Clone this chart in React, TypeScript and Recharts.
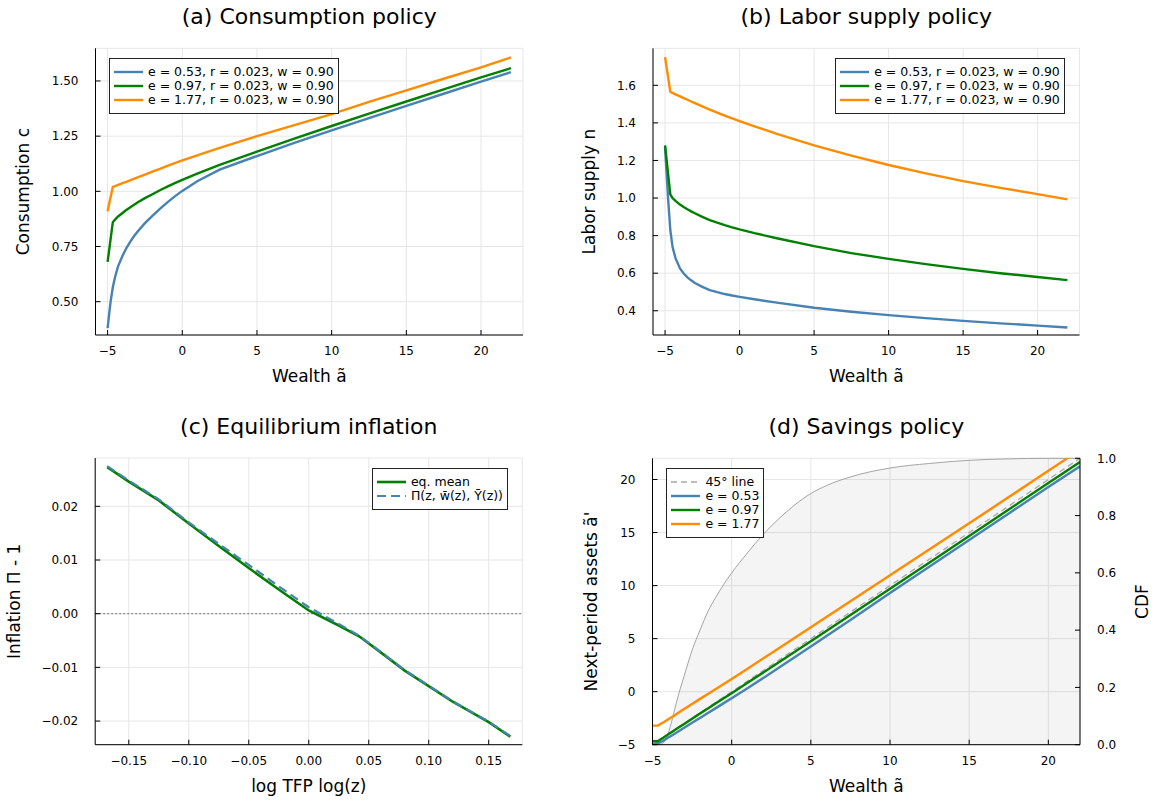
import React from 'react';
import {
  LineChart, ComposedChart, Line, Area, XAxis, YAxis, CartesianGrid,
  ReferenceLine, Legend, Label,
} from 'recharts';

const FONT = '"DejaVu Sans", sans-serif';
const BLUE = '#4682b4';
const GREEN = '#008000';
const ORANGE = '#ff8c00';
const GRID = '#e6e6e6';

// wealth grid shared by panels a, b and d
const wealth = [-5, -4.8, -4.65, -4.5, -4.3, -4, -3.75, -3.5, -3.25, -3, -2.5, -2, -1.5, -1, -0.5, 0, 1, 2.5, 5, 7.5, 10, 12.5, 15, 17.5, 20, 22];

// (a) consumption policy
const consLow = [0.38, 0.5, 0.565, 0.612, 0.66, 0.708, 0.742, 0.77, 0.795, 0.817, 0.856, 0.889, 0.92, 0.95, 0.977, 1.002, 1.046, 1.098, 1.16, 1.219, 1.276, 1.332, 1.387, 1.442, 1.497, 1.54];
const consMid = [0.68, 0.783, 0.86, 0.872, 0.886, 0.902, 0.915, 0.927, 0.938, 0.949, 0.969, 0.987, 1.005, 1.021, 1.037, 1.052, 1.08, 1.12, 1.18, 1.239, 1.296, 1.352, 1.407, 1.462, 1.516, 1.558];
const consHigh = [0.91, 0.973, 1.02, 1.024, 1.029, 1.037, 1.043, 1.05, 1.056, 1.063, 1.076, 1.089, 1.102, 1.115, 1.128, 1.14, 1.163, 1.197, 1.25, 1.3, 1.35, 1.405, 1.457, 1.51, 1.562, 1.607];

// (b) labor supply policy
const laborLow = [1.27, 1.0, 0.83, 0.74, 0.68, 0.625, 0.598, 0.578, 0.562, 0.548, 0.527, 0.51, 0.499, 0.489, 0.481, 0.474, 0.461, 0.443, 0.416, 0.395, 0.377, 0.361, 0.346, 0.333, 0.321, 0.311];
const laborMid = [1.28, 1.131, 1.02, 1.0, 0.985, 0.965, 0.952, 0.94, 0.929, 0.919, 0.9, 0.883, 0.869, 0.856, 0.844, 0.833, 0.813, 0.786, 0.744, 0.707, 0.676, 0.648, 0.623, 0.6, 0.58, 0.563];
const laborHigh = [1.75, 1.645, 1.566, 1.56, 1.552, 1.541, 1.532, 1.523, 1.514, 1.505, 1.488, 1.471, 1.455, 1.439, 1.424, 1.41, 1.382, 1.342, 1.28, 1.226, 1.176, 1.131, 1.09, 1.054, 1.021, 0.993];

// (c) equilibrium inflation
const logTfp = [-0.168, -0.15, -0.125, -0.1, -0.075, -0.05, -0.025, 0, 0.025, 0.042, 0.06, 0.08, 0.1, 0.12, 0.15, 0.168];
const inflEq = [0.0273, 0.0246, 0.0211, 0.0168, 0.0126, 0.0085, 0.0045, 0.0006, -0.0022, -0.0042, -0.0072, -0.0106, -0.0135, -0.0164, -0.0202, -0.0229];
const inflApprox = [0.0275, 0.0248, 0.0213, 0.017, 0.013, 0.0091, 0.0051, 0.0012, -0.0019, -0.0041, -0.0071, -0.0105, -0.0134, -0.0163, -0.0201, -0.0228];

// (d) savings policy + wealth CDF
const saveLow = [-4.94, -4.9, -4.86, -4.77, -4.6, -4.33, -4.1, -3.87, -3.64, -3.41, -2.94, -2.48, -2.01, -1.55, -1.08, -0.62, 0.32, 1.78, 4.25, 6.75, 9.3, 11.8, 14.3, 16.8, 19.3, 21.25];
const saveMid = [-4.68, -4.67, -4.66, -4.51, -4.32, -4.02, -3.78, -3.53, -3.29, -3.04, -2.55, -2.06, -1.58, -1.1, -0.62, -0.15, 0.83, 2.3, 4.75, 7.22, 9.7, 12.18, 14.68, 17.17, 19.67, 21.65];
const saveHigh = [-3.2, -3.2, -3.2, -3.05, -2.88, -2.6, -2.36, -2.12, -1.88, -1.64, -1.16, -0.68, -0.21, 0.26, 0.73, 1.2, 2.17, 3.63, 6.08, 8.52, 10.97, 13.42, 15.88, 18.34, 20.82, 22.8];
const diagWealth = [-5, 22];
const cdfWealth = [-5, -4.5, -4.2, -4, -3.75, -3.5, -3.25, -3, -2.5, -2, -1.5, -1, -0.5, 0, 1, 2, 3, 4, 5, 6, 7.5, 10, 12.5, 15, 17.5, 20, 22];
const cdfShare = [0, 0.002, 0.015, 0.04, 0.09, 0.145, 0.195, 0.24, 0.33, 0.4, 0.465, 0.515, 0.56, 0.6, 0.67, 0.735, 0.79, 0.838, 0.877, 0.905, 0.935, 0.966, 0.982, 0.993, 0.998, 1, 1];

// ticks
const wealthTicks = [-5, 0, 5, 10, 15, 20];
const consTicks = [0.5, 0.75, 1.0, 1.25, 1.5];
const laborTicks = [0.4, 0.6, 0.8, 1.0, 1.2, 1.4, 1.6];
const tfpTicks = [-0.15, -0.1, -0.05, 0, 0.05, 0.1, 0.15];
const inflTicks = [-0.02, -0.01, 0, 0.01, 0.02];
const assetTicks = [-5, 0, 5, 10, 15, 20];
const cdfTicks = [0, 0.2, 0.4, 0.6, 0.8, 1];

const policyLabels = ['e = 0.53, r = 0.023, w = 0.90', 'e = 0.97, r = 0.023, w = 0.90', 'e = 1.77, r = 0.023, w = 0.90'];
const shockLabels = ['e = 0.53', 'e = 0.97', 'e = 1.77'];

const consRows = wealth.map((x, i) => ({ x, low: consLow[i], mid: consMid[i], high: consHigh[i] }));
const laborRows = wealth.map((x, i) => ({ x, low: laborLow[i], mid: laborMid[i], high: laborHigh[i] }));
const inflRows = logTfp.map((x, i) => ({ x, eq: inflEq[i], approx: inflApprox[i] }));
const saveRows = wealth.map((x, i) => ({ x, low: saveLow[i], mid: saveMid[i], high: saveHigh[i] }));
const diagRows = diagWealth.map((x) => ({ x, diag: x }));
const cdfRows = cdfWealth.map((x, i) => ({ x, cdf: cdfShare[i] }));

const fmt = (d: number) => (v: number) => v.toFixed(d).replace('-', '\u2212');

type Box = { l: number; t: number; r: number; b: number };
const XH = 60;
const frame = (cx: number, cy: number, w: number, h: number, p: Box, rightW = 0) => ({
  pos: { position: 'absolute' as const, left: cx, top: cy },
  width: w,
  height: h,
  margin: { top: p.t - cy, right: cx + w - p.r - rightW, bottom: cy + h - p.b - XH, left: 0 },
  yw: p.l - cx,
});

const tickStyle = { fontSize: 12, fill: '#000', fontFamily: FONT };
const axisLine = { stroke: '#000', strokeWidth: 1 };
const labelStyle = { fontSize: 17, fill: '#000', fontFamily: FONT };

type Item = { label: string; color: string; width: number; dash?: string };
const LegendBox = ({ items }: { items: Item[] }) => (
  <div style={{ border: '1px solid #222', background: '#fff', padding: '6px 4px 6px 4px', fontFamily: FONT, fontSize: 12.5, lineHeight: '14px', color: '#000' }}>
    {items.map((it) => (
      <div key={it.label} style={{ display: 'flex', alignItems: 'center', height: 14, whiteSpace: 'nowrap' }}>
        <svg width={29} height={14} style={{ marginRight: 5, flex: 'none' }}>
          <line x1={0} y1={7} x2={29} y2={7} stroke={it.color} strokeWidth={it.width} strokeDasharray={it.dash} />
        </svg>
        <span>{it.label}</span>
      </div>
    ))}
  </div>
);

const Title = ({ text, cx, base }: { text: string; cx: number; base: number }) => (
  <div style={{ position: 'absolute', left: cx, top: base - 18.6, transform: 'translateX(-50%)', fontSize: 22, lineHeight: '22px', whiteSpace: 'nowrap', color: '#000' }}>
    {text}
  </div>
);

const policyItems: Item[] = [
  { label: policyLabels[0], color: BLUE, width: 2.4 },
  { label: policyLabels[1], color: GREEN, width: 2.4 },
  { label: policyLabels[2], color: ORANGE, width: 2.4 },
];

const fa = frame(0, 0, 560, 400, { l: 95.5, t: 48.3, r: 523, b: 335 });
const fb = frame(560, 0, 597, 400, { l: 653, t: 48.3, r: 1079.5, b: 335 });
const fc = frame(0, 400, 560, 401, { l: 95.2, t: 458, r: 522.3, b: 744.7 });
const fd = frame(560, 400, 597, 401, { l: 652.5, t: 458.3, r: 1080, b: 744.7 }, 77);

const legendProps = { layout: 'horizontal' as const, verticalAlign: 'middle' as const, align: 'center' as const };

const ConsumptionPanel = () => (
  <div style={fa.pos}>
    <LineChart width={fa.width} height={fa.height} data={consRows} margin={fa.margin}>
      <CartesianGrid stroke={GRID} />
      <XAxis type="number" dataKey="x" domain={[-5.81, 22.81]} ticks={wealthTicks} interval={0} tickFormatter={fmt(0)}
        tick={tickStyle} tickSize={-5} tickMargin={16.7} tickLine={axisLine} axisLine={axisLine} height={XH}>
        <Label value="Wealth ã" position="insideBottom" offset={12.6} style={labelStyle} />
      </XAxis>
      <YAxis type="number" domain={[0.349, 1.648]} ticks={consTicks} interval={0} tickFormatter={fmt(2)} width={fa.yw}
        tick={tickStyle} tickSize={-5} tickMargin={22} tickLine={axisLine} axisLine={axisLine}>
        <Label value="Consumption c" angle={-90} position="insideLeft" offset={23} style={{ ...labelStyle, textAnchor: 'middle' }} />
      </YAxis>
      <Line type="linear" dataKey="low" stroke={BLUE} strokeWidth={2.4} dot={false} isAnimationActive={false} />
      <Line type="linear" dataKey="mid" stroke={GREEN} strokeWidth={2.4} dot={false} isAnimationActive={false} />
      <Line type="linear" dataKey="high" stroke={ORANGE} strokeWidth={2.4} dot={false} isAnimationActive={false} />
      <Legend {...legendProps} wrapperStyle={{ left: 109, top: 58, width: 'auto' }} content={() => <LegendBox items={policyItems} />} />
    </LineChart>
  </div>
);

const LaborPanel = () => (
  <div style={fb.pos}>
    <LineChart width={fb.width} height={fb.height} data={laborRows} margin={fb.margin}>
      <CartesianGrid stroke={GRID} />
      <XAxis type="number" dataKey="x" domain={[-5.81, 22.81]} ticks={wealthTicks} interval={0} tickFormatter={fmt(0)}
        tick={tickStyle} tickSize={-5} tickMargin={16.7} tickLine={axisLine} axisLine={axisLine} height={XH}>
        <Label value="Wealth ã" position="insideBottom" offset={12.6} style={labelStyle} />
      </XAxis>
      <YAxis type="number" domain={[0.271, 1.797]} ticks={laborTicks} interval={0} tickFormatter={fmt(1)} width={fb.yw}
        tick={tickStyle} tickSize={-5} tickMargin={22} tickLine={axisLine} axisLine={axisLine}>
        <Label value="Labor supply n" angle={-90} position="insideLeft" offset={29} style={{ ...labelStyle, textAnchor: 'middle' }} />
      </YAxis>
      <Line type="linear" dataKey="low" stroke={BLUE} strokeWidth={2.4} dot={false} isAnimationActive={false} />
      <Line type="linear" dataKey="mid" stroke={GREEN} strokeWidth={2.4} dot={false} isAnimationActive={false} />
      <Line type="linear" dataKey="high" stroke={ORANGE} strokeWidth={2.4} dot={false} isAnimationActive={false} />
      <Legend {...legendProps} wrapperStyle={{ right: 92.2, top: 58.3, width: 'auto' }} content={() => <LegendBox items={policyItems} />} />
    </LineChart>
  </div>
);

const InflationPanel = () => (
  <div style={fc.pos}>
    <LineChart width={fc.width} height={fc.height} data={inflRows} margin={fc.margin}>
      <CartesianGrid stroke={GRID} />
      <XAxis type="number" dataKey="x" domain={[-0.178, 0.178]} ticks={tfpTicks} interval={0} tickFormatter={fmt(2)}
        tick={tickStyle} tickSize={-5} tickMargin={16.7} tickLine={axisLine} axisLine={axisLine} height={XH}>
        <Label value="log TFP log(z)" position="insideBottom" offset={12.3} style={labelStyle} />
      </XAxis>
      <YAxis type="number" domain={[-0.0244, 0.029]} ticks={inflTicks} interval={0} tickFormatter={fmt(2)} width={fc.yw}
        tick={tickStyle} tickSize={-5} tickMargin={22} tickLine={axisLine} axisLine={axisLine}>
        <Label value="Inflation Π - 1" angle={-90} position="insideLeft" offset={13.7} style={{ ...labelStyle, textAnchor: 'middle' }} />
      </YAxis>
      <ReferenceLine y={0} stroke="#555" strokeWidth={0.8} strokeDasharray="2 2" />
      <Line type="linear" dataKey="eq" stroke={GREEN} strokeWidth={2.6} dot={false} isAnimationActive={false} />
      <Line type="linear" dataKey="approx" stroke={BLUE} strokeWidth={2.2} strokeDasharray="9 5" dot={false} isAnimationActive={false} />
      <Legend {...legendProps} wrapperStyle={{ right: 52, top: 67.7, width: 'auto' }}
        content={() => (
          <LegendBox items={[
            { label: 'eq. mean', color: GREEN, width: 2.6 },
            { label: 'Π(z, w\u0304(z), Ȳ(z))', color: BLUE, width: 2.2, dash: '9 5' },
          ]} />
        )} />
    </LineChart>
  </div>
);

const SavingsPanel = () => (
  <div style={fd.pos}>
    <ComposedChart width={fd.width} height={fd.height} data={saveRows} margin={fd.margin}>
      <CartesianGrid stroke={GRID} yAxisId="left" />
      <XAxis type="number" dataKey="x" domain={[-5, 22]} ticks={wealthTicks} interval={0} tickFormatter={fmt(0)} allowDataOverflow
        tick={tickStyle} tickSize={-5} tickMargin={16.7} tickLine={axisLine} axisLine={axisLine} height={XH}>
        <Label value="Wealth ã" position="insideBottom" offset={12.3} style={labelStyle} />
      </XAxis>
      <YAxis yAxisId="left" type="number" domain={[-5, 22]} ticks={assetTicks} interval={0} tickFormatter={fmt(0)} width={fd.yw} allowDataOverflow
        tick={tickStyle} tickSize={-5} tickMargin={22} tickLine={axisLine} axisLine={axisLine}>
        <Label value="Next-period assets ã'" angle={-90} position="insideLeft" offset={30.6} style={{ ...labelStyle, textAnchor: 'middle' }} />
      </YAxis>
      <YAxis yAxisId="right" orientation="right" type="number" domain={[0, 1]} ticks={cdfTicks} interval={0} tickFormatter={fmt(1)} width={77}
        tick={tickStyle} tickSize={-5} tickMargin={22} tickLine={axisLine} axisLine={axisLine}>
        <Label value="CDF" angle={-90} position="insideRight" offset={15.3} style={{ ...labelStyle, textAnchor: 'middle' }} />
      </YAxis>
      <Area yAxisId="right" data={cdfRows} type="monotone" dataKey="cdf" stroke="#9a9a9a" strokeWidth={0.9} fill="#000" fillOpacity={0.045} isAnimationActive={false} />
      <Line yAxisId="left" data={diagRows} type="linear" dataKey="diag" stroke="#a8a8a8" strokeWidth={1.3} strokeDasharray="6 4" dot={false} isAnimationActive={false} />
      <Line yAxisId="left" type="linear" dataKey="low" stroke={BLUE} strokeWidth={2.4} dot={false} isAnimationActive={false} />
      <Line yAxisId="left" type="linear" dataKey="mid" stroke={GREEN} strokeWidth={2.4} dot={false} isAnimationActive={false} />
      <Line yAxisId="left" type="linear" dataKey="high" stroke={ORANGE} strokeWidth={2.4} dot={false} isAnimationActive={false} />
      <Legend {...legendProps} wrapperStyle={{ left: 106.4, top: 67.7, width: 'auto' }}
        content={() => (
          <LegendBox items={[
            { label: '45° line', color: '#a8a8a8', width: 1.6, dash: '6 4' },
            { label: shockLabels[0], color: BLUE, width: 2.4 },
            { label: shockLabels[1], color: GREEN, width: 2.4 },
            { label: shockLabels[2], color: ORANGE, width: 2.4 },
          ]} />
        )} />
    </ComposedChart>
  </div>
);

export default function App() {
  return (
    <div style={{ position: 'absolute', left: 0, top: 0, width: 1157, height: 801, background: '#fff', fontFamily: FONT, overflow: 'hidden' }}>
      <ConsumptionPanel />
      <LaborPanel />
      <InflationPanel />
      <SavingsPanel />
      <Title text="(a) Consumption policy" cx={309.3} base={25} />
      <Title text="(b) Labor supply policy" cx={866.3} base={25} />
      <Title text="(c) Equilibrium inflation" cx={308.8} base={434.7} />
      <Title text="(d) Savings policy" cx={866.3} base={435} />
    </div>
  );
}
